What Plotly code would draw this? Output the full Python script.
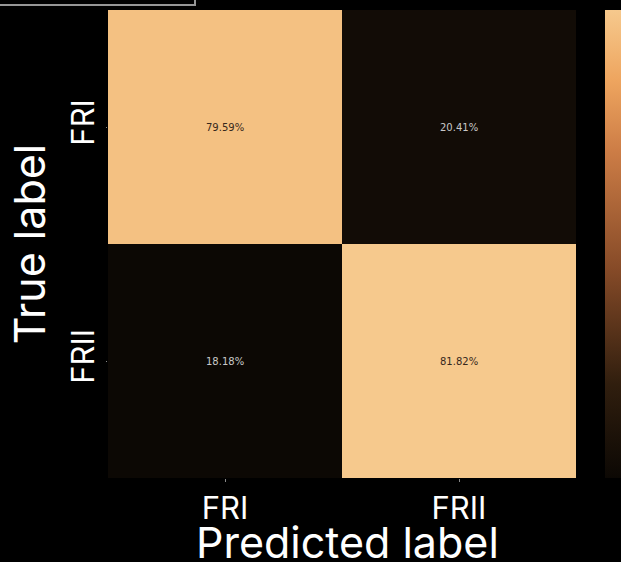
import plotly.graph_objects as go

# Confusion matrix (row-normalised, percent)
true_labels = ["FRI", "FRII"]
pred_labels = ["FRI", "FRII"]
row_fri = [79.59, 20.41]
row_frii = [18.18, 81.82]
z = [row_fri, row_frii]

# copper-like colour ramp
copper = [
    [0.0, "rgb(12,8,4)"],
    [0.2, "rgb(48,30,14)"],
    [0.45, "rgb(135,75,40)"],
    [0.7, "rgb(205,125,70)"],
    [0.85, "rgb(238,165,95)"],
    [1.0, "rgb(246,201,141)"],
]

zlo = min(min(r) for r in z)
zhi = max(max(r) for r in z)

# plot area in pixels: x 108..576, y 10..478
PX0, PY1, PW = 108, 478, 468

fig = go.Figure()
fig.add_trace(go.Heatmap(
    z=z, x=pred_labels, y=true_labels,
    colorscale=copper, zmin=zlo, zmax=zhi,
    xgap=0, ygap=0,
    colorbar=dict(x=(605 - PX0) / PW, xanchor="left", y=0.5, yanchor="middle",
                  len=1.0, lenmode="fraction", thickness=40, outlinewidth=0,
                  xpad=0, ypad=0, showticklabels=False, ticks=""),
    hoverinfo="skip",
))

zmid = (zlo + zhi) / 2
for i, t in enumerate(true_labels):
    for j, p in enumerate(pred_labels):
        v = z[i][j]
        fig.add_annotation(
            x=p, y=t, text=f"{v:.2f}%", showarrow=False,
            font=dict(family="DejaVu Sans", size=10,
                      color="rgb(55,40,28)" if v > zmid else "rgb(200,200,200)"),
        )

# x-axis title placed as a paper annotation below the tick labels
fig.add_annotation(
    xref="paper", yref="paper", x=(347 - PX0) / PW, y=(PY1 - 542) / PW,
    xanchor="center", yanchor="middle", text="Predicted label", showarrow=False,
    font=dict(family="Inter", size=43, color="white"),
)

# leftover frame outline along the top-left edge
fig.add_shape(type="rect", xref="paper", yref="paper",
              x0=-0.3, x1=(195 - PX0) / PW, y0=(PY1 - 5) / PW, y1=1.2,
              line=dict(color="rgb(150,150,150)", width=2), fillcolor="rgba(0,0,0,0)")

fig.update_layout(
    width=621, height=562,
    margin=dict(l=108, r=45, t=10, b=84, autoexpand=False),
    paper_bgcolor="black", plot_bgcolor="black",
    font=dict(family="Inter", color="white"),
    xaxis=dict(tickfont=dict(size=31), ticks="outside", ticklen=3, tickcolor="#888",
               showgrid=False, zeroline=False, showline=False),
    yaxis=dict(title=dict(text="True label", font=dict(size=43), standoff=4),
               tickfont=dict(size=31), ticks="outside", ticklen=1, tickcolor="#888",
               tickangle=-90, autorange="reversed",
               showgrid=False, zeroline=False, showline=False),
)

fig.write_html("out.html")
